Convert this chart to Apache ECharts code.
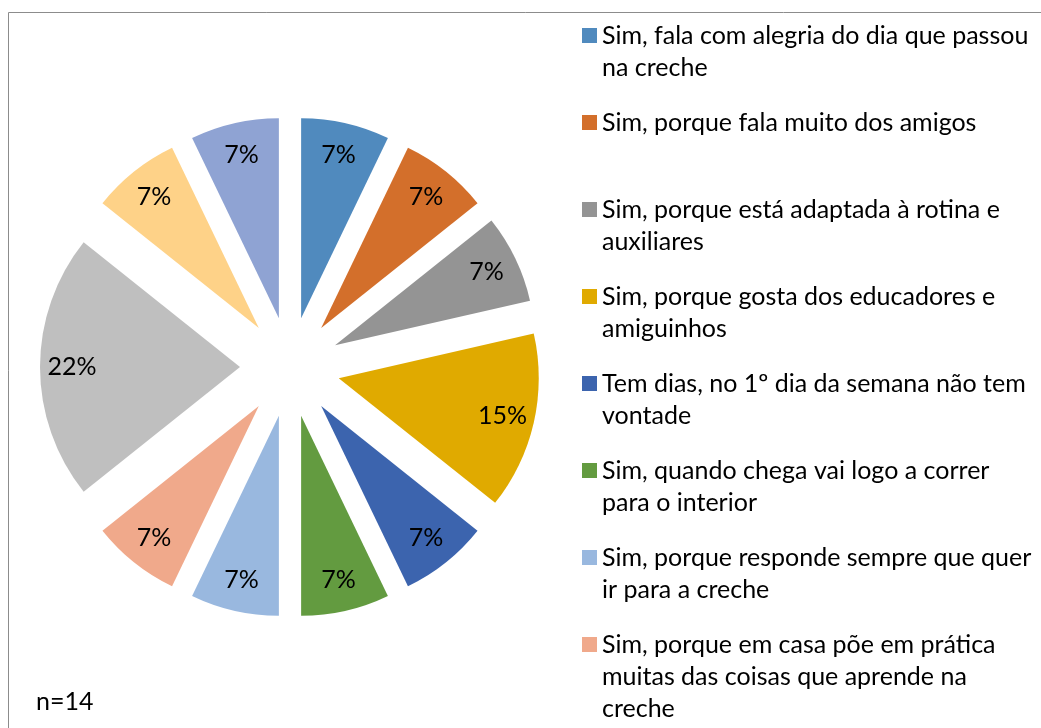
<!DOCTYPE html>
<html>
<head>
<meta charset="utf-8">
<script src="https://cdn.jsdelivr.net/npm/echarts@6/dist/echarts.min.js"></script>
<style>
  html, body { margin: 0; padding: 0; background: #fff; }
  #main { width: 1041px; height: 728px; }
</style>
</head>
<body>
<div id="main"></div>
<script>
// answers, clockwise from 12 o'clock (last 3 are not visible in the cut-off legend)
var categories = [
  'Sim, fala com alegria do dia que passou na creche',
  'Sim, porque fala muito dos amigos',
  'Sim, porque está adaptada à rotina e auxiliares',
  'Sim, porque gosta dos educadores e amiguinhos',
  'Tem dias, no 1º dia da semana não tem vontade',
  'Sim, quando chega vai logo a correr para o interior',
  'Sim, porque responde sempre que quer ir para a creche',
  'Sim, porque em casa põe em prática muitas das coisas que aprende na creche',
  'Resposta 9',
  'Resposta 10',
  'Resposta 11'
];
// number of answers (n=14)
var counts = [1, 1, 1, 2, 1, 1, 1, 1, 3, 1, 1];
var colors = ['#508abe', '#d36f2b', '#949494', '#e0aa00', '#3c64ae', '#639b40',
              '#99b8df', '#f0a98b', '#bfbfbf', '#fed288', '#8fa3d3'];
// how the legend wraps its text
var legendLines = [
  ['Sim, fala com alegria do dia que passou', 'na creche'],
  ['Sim, porque fala muito dos amigos'],
  ['Sim, porque está adaptada à rotina e', 'auxiliares'],
  ['Sim, porque gosta dos educadores e', 'amiguinhos'],
  ['Tem dias, no 1º dia da semana não tem', 'vontade'],
  ['Sim, quando chega vai logo a correr', 'para o interior'],
  ['Sim, porque responde sempre que quer', 'ir para a creche'],
  ['Sim, porque em casa põe em prática', 'muitas das coisas que aprende na', 'creche']
];
var legendShown = 8;

var font = 'Lato';
var chart = echarts.init(document.getElementById('main'));

var pieData = categories.map(function (name, i) {
  return { name: name, value: counts[i], selected: true, itemStyle: { color: colors[i] } };
});

var option = {
  animation: false,
  graphic: [
    {
      type: 'rect',
      shape: { x: 8.5, y: 12.5, width: 1100, height: 800 },
      style: { fill: 'none', stroke: '#8c8c8c', lineWidth: 1 },
      silent: true
    },
    {
      type: 'text',
      left: 36,
      top: 689,
      style: { text: 'n=14', font: '25px ' + font, fill: '#000' }
    }
  ],
  legend: {
    orient: 'vertical',
    left: 582,
    top: -44.5,
    height: 3000,
    padding: 0,
    itemWidth: 15,
    itemHeight: 15,
    itemGap: -73,
    icon: 'rect',
    selectedMode: false,
    data: categories.slice(0, legendShown),
    // 5-line block, first real line in the middle so the marker sits next to it
    formatter: function (name) {
      var lines = [' ', ' '].concat(legendLines[categories.indexOf(name)]);
      while (lines.length < 5) lines.push(' ');
      return lines.join('\n');
    },
    textStyle: {
      fontFamily: font,
      fontSize: 25,
      color: '#000',
      lineHeight: 32
    }
  },
  series: [
    {
      type: 'pie',
      center: [290, 367],
      radius: 200,
      startAngle: 90,
      clockwise: true,
      selectedMode: 'multiple',
      selectedOffset: 50,
      percentPrecision: 0,
      label: { show: false },
      labelLine: { show: false },
      emphasis: { disabled: true },
      data: pieData
    },
    {
      // invisible ring carrying the percentage labels near the rim
      type: 'pie',
      center: [290, 367],
      radius: [130, 200],
      startAngle: 90,
      clockwise: true,
      selectedMode: 'multiple',
      selectedOffset: 50,
      percentPrecision: 0,
      silent: true,
      itemStyle: { color: 'rgba(0,0,0,0)' },
      emphasis: { disabled: true },
      label: {
        show: true,
        position: 'inside',
        formatter: '{d}%',
        fontFamily: font,
        fontSize: 25,
        color: '#000'
      },
      labelLine: { show: false },
      data: categories.map(function (name, i) {
        return { name: name, value: counts[i], selected: true };
      })
    }
  ]
};

chart.setOption(option);
</script>
</body>
</html>
